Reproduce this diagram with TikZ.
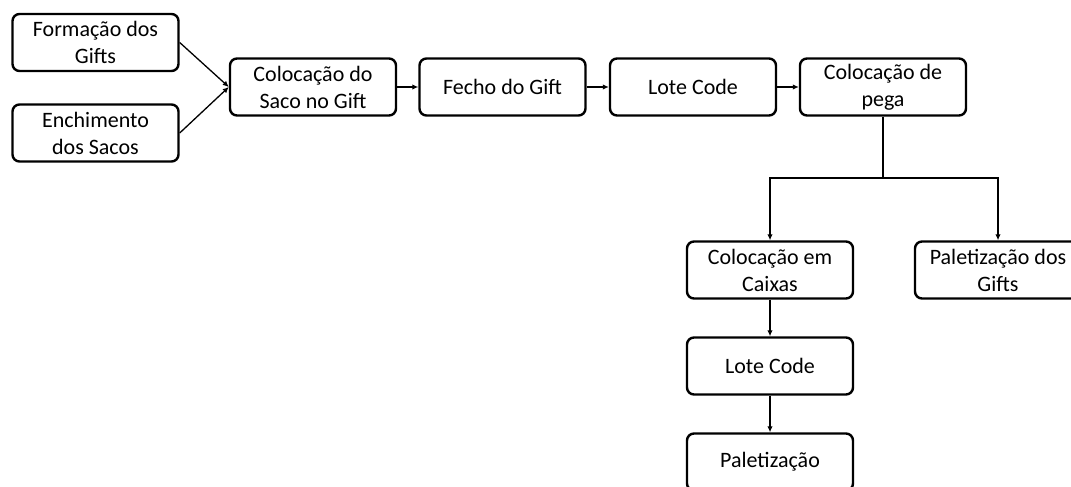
\documentclass[tikz,border=0pt]{standalone}
\usepackage{fontspec}
\setmainfont{Carlito}
\usetikzlibrary{arrows.meta}
\begin{document}
\begin{tikzpicture}[x=1pt,y=-1pt,
	etapa/.style={draw,line width=2.4pt,rounded corners=7pt,minimum width=166pt,minimum height=57pt,align=center,inner sep=1pt,font=\fontsize{22}{27}\selectfont},
	seta/.style={line width=1.3pt,-{Latex[length=6pt,width=5.5pt]}}]
	\useasboundingbox (0,0) rectangle (1071,487);
	\node (form) at (95.5,42.5) [etapa]{Formação dos\\Gifts};
	\node (ench) at (95.5,133) [etapa]{Enchimento\\dos Sacos};
	\node (saco) at (313,87) [etapa]{Colocação do\\Saco no Gift};
	\node (fecho) at (502.5,87) [etapa]{Fecho do Gift};
	\node (lote) at (693,87) [etapa]{Lote Code};
	\node (pega) at (883,87) [etapa]{Colocação de\\pega};
	\node (caixas) at (770,270) [etapa]{Colocação em\\Caixas};
	\node (palgifts) at (998,270) [etapa]{Paletização dos\\Gifts};
	\node (lote2) at (770,366) [etapa]{Lote Code};
	\node (palet) at (770,462) [etapa]{Paletização};
	\coordinate (ramo) at (883,178);
	\draw [seta] (form.east) -- (saco.west);
	\draw [seta] (ench.east) -- (saco.west);
	\draw [seta] (saco) -- (fecho);
	\draw [seta] (fecho) -- (lote);
	\draw [seta] (lote) -- (pega);
	\draw [line width=1.3pt] (pega.south) -- (ramo);
	\draw [seta] (ramo) -| (caixas.north);
	\draw [seta] (ramo) -| (palgifts.north);
	\draw [seta] (caixas) -- (lote2);
	\draw [seta] (lote2) -- (palet);
\end{tikzpicture}
\end{document}
